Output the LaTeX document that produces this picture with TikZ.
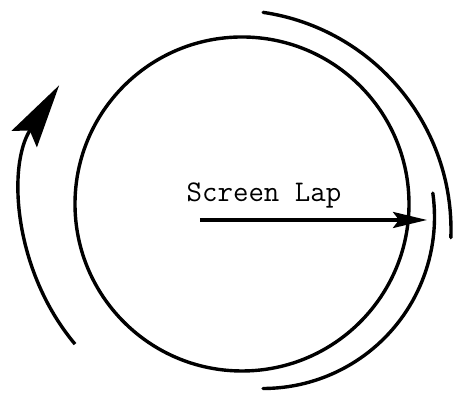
\documentclass[tikz,border=0pt]{standalone}
\usepackage{tikz}
\usetikzlibrary{arrows.meta, positioning}

\begin{document}
\begin{tikzpicture}[
    x=0.5pt, y=0.5pt,
    every node/.style = {font=\ttfamily\fontsize{15}{17}\selectfont},
    screenring/.style = {
        circle, draw=black, line width=1.7pt,
        minimum size=167pt, inner sep=0pt
    },
    sweep/.style = {line width=1.7pt, line cap=round},
    turnarr/.style = {-{Stealth[length=32pt, width=15pt, inset=5pt]}, line width=1.7pt},
    laparr/.style = {-{Stealth[length=17pt, width=8pt, inset=3pt]}, line width=1.7pt},
]

% frame
\useasboundingbox (0,0) rectangle (462,394);

% screen
\node[screenring] (screen) at (242,190) {};

% outer sweeps on the right
\draw[sweep] (231,164) ++(81.6:220) arc[start angle=81.6, end angle=-2, radius=110pt];
\draw[sweep] (263,177) ++(8:171.5) arc[start angle=8, end angle=-90, radius=85.75pt];

% turning direction on the left
\draw[turnarr] (242,190) ++(220:218) arc[start angle=220, end angle=147, radius=109pt];

% lap
\coordinate (lapstart) at (200,174);
\coordinate (laptip) at (427,174);
\node[anchor=base] (lap) at (264,192) {Screen Lap};
\draw[laparr] (lapstart) -- (laptip);

\end{tikzpicture}
\end{document}
